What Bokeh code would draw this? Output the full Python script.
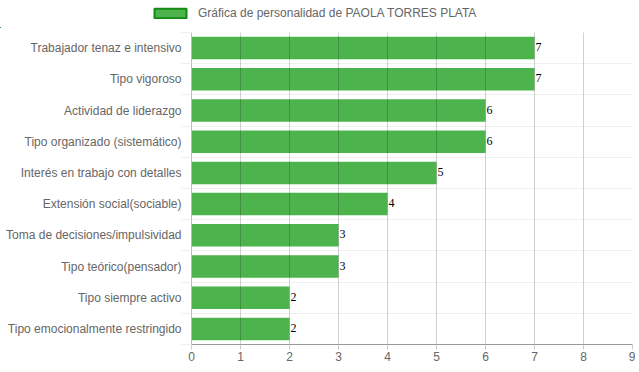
from bokeh.plotting import figure
from bokeh.layouts import column
from bokeh.models import Range1d, FixedTicker, Legend, LegendItem, ColumnDataSource
from bokeh.core.properties import value
from bokeh.embed import file_html
from bokeh.resources import INLINE

categories = ["Trabajador tenaz e intensivo", "Tipo vigoroso", "Actividad de liderazgo",
              "Tipo organizado (sistemático)", "Interés en trabajo con detalles",
              "Extensión social(sociable)", "Toma de decisiones/impulsividad",
              "Tipo teórico(pensador)", "Tipo siempre activo",
              "Tipo emocionalmente restringido"]
values = [7, 7, 6, 6, 5, 4, 3, 3, 2, 2]
x_ticks = [0, 1, 2, 3, 4, 5, 6, 7, 8, 9]
series_name = "Gráfica de personalidad de PAOLA TORRES PLATA"

n = len(categories)
ypos = list(range(n))
bounds = [i - 0.5 for i in range(n + 1)]

FILL = "#4db34d"
BORDER = "#138a13"
FONT = "Liberation Sans"

src = ColumnDataSource(dict(y=ypos, v=values, lab=[str(v) for v in values]))

# ---- legend strip (proxy renderer is kept far outside its visible range) ----
leg = figure(width=635, height=28, output_backend="svg", toolbar_location=None,
             x_range=Range1d(100, 101), y_range=Range1d(100, 101),
             x_axis_type=None, y_axis_type=None, min_border=0)
leg.outline_line_color = None
leg.grid.visible = False
unaligned = "frame_align" in leg.properties()
if unaligned:
    leg.frame_align = False
proxy = leg.hbar(y="y", right="v", left=0, height=0.7, source=src,
                 fill_color=FILL, line_color=BORDER, line_width=2)
legend = Legend(items=[LegendItem(label=series_name, renderers=[proxy])],
                location=(150 if unaligned else -42, 8), orientation="horizontal",
                glyph_width=40, glyph_height=12, padding=0, margin=0,
                label_text_font=FONT, label_text_font_size="12px",
                label_text_color="#666666", border_line_color=None,
                background_fill_alpha=0, label_standoff=8, label_height=12)
leg.add_layout(legend)

# ---- main chart ----
p = figure(width=635, height=338, output_backend="svg", toolbar_location=None,
           x_range=Range1d(0, 9), y_range=Range1d(n - 0.5, -0.5),
           min_border_left=191, min_border_right=3, min_border_top=4, min_border_bottom=22)
p.outline_line_color = None

p.hbar(y="y", right="v", left=0, height=0.72, source=src,
       fill_color=FILL, line_color=None)
p.text(x="v", y="y", text="lab", source=src, text_font=value("Liberation Serif"),
       text_font_size="12px", text_color="black", text_align="left",
       text_baseline="middle", x_offset=1, y_offset=-1)

p.xaxis.ticker = FixedTicker(ticks=x_ticks)
p.xaxis.axis_line_color = "#999999"
p.xaxis.major_tick_line_color = "#cccccc"
p.xaxis.major_tick_in = 0
p.xaxis.major_tick_out = 5
p.xaxis.minor_tick_line_color = None
p.xaxis.major_label_text_font = FONT
p.xaxis.major_label_text_font_size = "12px"
p.xaxis.major_label_text_color = "#666666"
p.xaxis.major_label_standoff = 2

p.yaxis.ticker = FixedTicker(ticks=ypos, minor_ticks=bounds)
p.yaxis.major_label_overrides = {i: c for i, c in zip(ypos, categories)}
p.yaxis.axis_line_color = "#bbbbbb"
p.yaxis.major_tick_line_color = None
p.yaxis.minor_tick_line_color = "#eeeeee"
p.yaxis.minor_tick_out = 10
p.yaxis.minor_tick_in = 0
p.yaxis.major_label_text_font = FONT
p.yaxis.major_label_text_font_size = "12px"
p.yaxis.major_label_text_color = "#666666"
p.yaxis.major_label_standoff = 0

p.xgrid.ticker = FixedTicker(ticks=x_ticks)
p.xgrid.grid_line_color = "black"
p.xgrid.grid_line_alpha = 0.18
p.xgrid.level = "overlay"
p.ygrid.ticker = FixedTicker(ticks=bounds)
p.ygrid.grid_line_color = "black"
p.ygrid.grid_line_alpha = 0.06
p.ygrid.level = "overlay"

layout = column(leg, p, spacing=0)
open("out.html", "w").write(file_html(layout, INLINE))
